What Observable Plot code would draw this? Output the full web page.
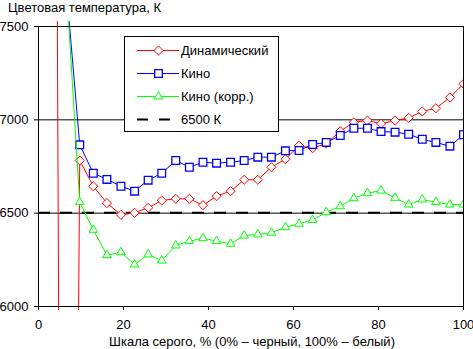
<!DOCTYPE html>
<html><head><meta charset="utf-8">
<script src="https://cdn.jsdelivr.net/npm/d3@7"></script>
<script src="https://cdn.jsdelivr.net/npm/@observablehq/plot@0.6"></script>
<style>
body{margin:0;background:#fff;}
#wrap{position:relative;width:473px;height:349px;overflow:hidden;background:#fff;font-family:"Liberation Sans",Arial,sans-serif;font-size:13px;color:#000;}
#chart{position:absolute;left:0;top:0;}
#title{position:absolute;left:8px;top:0;line-height:16px;white-space:nowrap;}
#xlabel{position:absolute;left:39px;width:426px;top:334px;line-height:16px;text-align:center;white-space:nowrap;}
#legend{position:absolute;left:124px;top:36px;}
</style></head><body>
<div id="wrap">
<div id="chart"></div>
<div id="title">Цветовая температура, К</div>
<div id="xlabel">Шкала серого, % (0% – черный, 100% – белый)</div>
<div id="legend"></div>
</div>
<script>
// gray levels (%), 32 steps
const greyLevels = [0, 3.2, 6.5, 9.7, 12.9, 16.1, 19.4, 22.6, 25.8, 29.0, 32.3, 35.5, 38.7, 41.9, 45.2, 48.4,
  51.6, 54.8, 58.1, 61.3, 64.5, 67.7, 71.0, 74.2, 77.4, 80.6, 83.9, 87.1, 90.3, 93.5, 96.8, 100];
const seriesNames = ["Динамический", "Кино", "Кино (корр.)"];
const seriesColors = ["#ff0000", "#0000ff", "#00ff00"];
const dynamicValues = [null, 13800, -3000, 6782, 6644, 6554, 6491, 6502, 6529, 6568, 6577, 6577, 6543, 6591, 6618, 6679,
  6679, 6746, 6789, 6862, 6848, 6873, 6939, 6987, 6996, 6979, 6996, 7011, 7045, 7062, 7120, 7193];
const cinemaValues = [null, null, 7720, 6866, 6714, 6681, 6644, 6618, 6677, 6714, 6782, 6746, 6773, 6768, 6773, 6782,
  6800, 6800, 6834, 6836, 6868, 6879, 6916, 6955, 6955, 6937, 6934, 6923, 6896, 6879, 6859, 6920];
const cinemaCorrValues = [null, null, 7740, 6559, 6411, 6275, 6291, 6225, 6279, 6246, 6327, 6350, 6366, 6350, 6336, 6380,
  6386, 6395, 6425, 6443, 6464, 6505, 6537, 6580, 6607, 6621, 6582, 6546, 6573, 6559, 6546, 6546];
const referenceLabel = "6500 К";
const referenceValue = 6500;
const gridValues = [6500, 7000];
const xTicks = [0, 20, 40, 60, 80, 100];
const yTicks = [6000, 6500, 7000, 7500];

const toRows = (vals) => greyLevels.map((g, i) => ({g, t: vals[i]})).filter(d => d.t != null);
const dyn = toRows(dynamicValues), cin = toRows(cinemaValues), cor = toRows(cinemaCorrValues);

const symbols = ["diamond2", "square2", "triangle2"];
const radii = [4.1, 4.9, 4.1];
const sw = [1, 1.3, 1];

const seriesMarks = [dyn, cin, cor].flatMap((data, k) => [
  Plot.line(data, {x: "g", y: "t", stroke: seriesColors[k], strokeWidth: 1, clip: true}),
  Plot.dot(data, {x: "g", y: "t", symbol: symbols[k], r: radii[k], stroke: seriesColors[k], fill: "white", strokeWidth: sw[k], clip: true})
]);

const chart = Plot.plot({
  width: 473, height: 349,
  marginLeft: 38, marginRight: 10, marginTop: 21, marginBottom: 39,
  x: {domain: [0, 100]},
  y: {domain: [5978.6, 7526.8]},
  style: {fontFamily: '"Liberation Sans", Arial, sans-serif', fontSize: "13px", color: "black", background: "white"},
  marks: [
    Plot.ruleY(gridValues, {x1: 0, x2: 100, stroke: "black", strokeWidth: 1}),
    Plot.ruleY([referenceValue], {x1: 0, x2: 100, stroke: "black", strokeWidth: 2, strokeDasharray: "12,10", dy: -0.5}),
    ...seriesMarks,
    Plot.ruleY([6000, 7500], {x1: 0, x2: 100, stroke: "black"}),
    Plot.ruleX([0, 100], {y1: 6000, y2: 7500, stroke: "black"}),
    Plot.ruleX(xTicks, {y1: 6000, y2: 5978.6, stroke: "black"}),
    Plot.axisY(yTicks, {anchor: "left", tickSize: 4, tickPadding: 6, label: null, tickFormat: d => String(d), fill: "black", stroke: "black"}),
    Plot.axisX(xTicks, {anchor: "bottom", tickSize: 0, tickPadding: 9, label: null, tickFormat: d => String(d), fill: "black"})
  ]
});
document.getElementById("chart").appendChild(chart);

// legend
const lg = d3.select("#legend").append("svg").attr("width", 156).attr("height", 97)
  .style("font-family", '"Liberation Sans", Arial, sans-serif').style("font-size", "13px");
lg.append("rect").attr("x", 0.5).attr("y", 0.5).attr("width", 154).attr("height", 95)
  .attr("fill", "white").attr("stroke", "black");
const symTypes = [d3.symbolDiamond2, d3.symbolSquare2, d3.symbolTriangle2];
const rowY = [14.5, 37.5, 60.5, 83.5];
seriesNames.forEach((name, k) => {
  lg.append("line").attr("x1", 13).attr("x2", 55).attr("y1", rowY[k]).attr("y2", rowY[k])
    .attr("stroke", seriesColors[k]);
  lg.append("path").attr("d", d3.symbol(symTypes[k], Math.PI * radii[k] * radii[k])())
    .attr("transform", `translate(34.5,${rowY[k]})`).attr("fill", "white")
    .attr("stroke", seriesColors[k]).attr("stroke-width", sw[k]);
  lg.append("text").attr("x", 57).attr("y", rowY[k]).attr("dy", "0.35em").text(name);
});
lg.append("line").attr("x1", 13).attr("x2", 48).attr("y1", rowY[3]).attr("y2", rowY[3])
  .attr("stroke", "black").attr("stroke-width", 2).attr("stroke-dasharray", "11,11");
lg.append("text").attr("x", 57).attr("y", rowY[3]).attr("dy", "0.35em").text(referenceLabel);
</script>
</body></html>
